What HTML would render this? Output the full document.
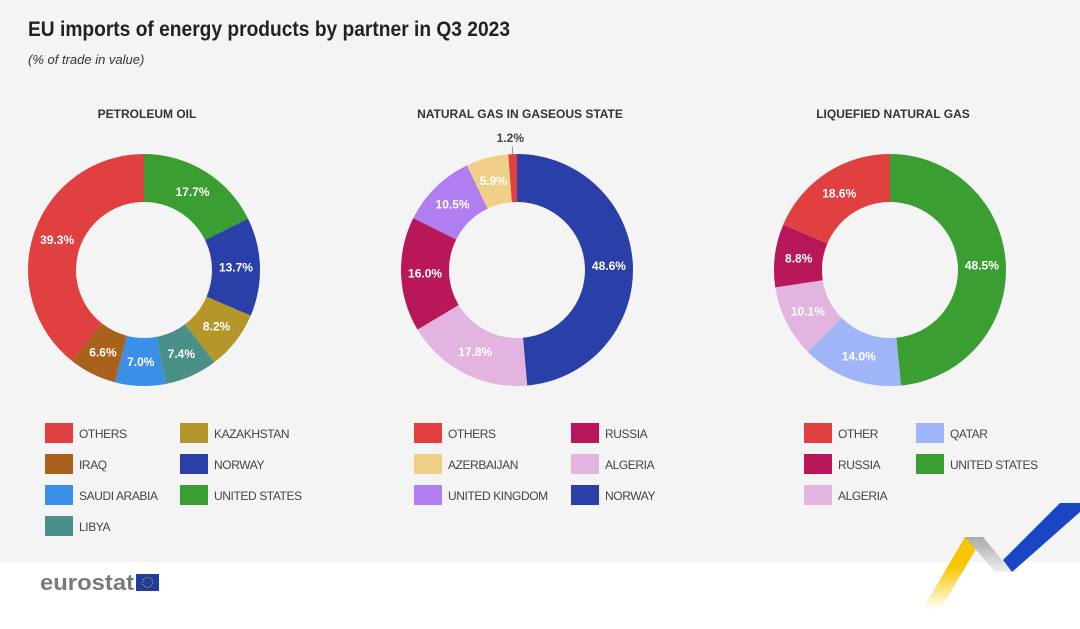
<!DOCTYPE html>
<html><head><meta charset="utf-8"><style>
body{margin:0;width:1080px;height:624px;overflow:hidden;font-family:"Liberation Sans",sans-serif;background:#fff}
</style></head><body>
<svg id="c" width="1080" height="624" xmlns="http://www.w3.org/2000/svg">
<rect x="0" y="0" width="1080" height="562" fill="#f4f4f4"/>
<text x="28" y="36" font-size="21" font-weight="bold" fill="#222" textLength="482" lengthAdjust="spacingAndGlyphs">EU imports of energy products by partner in Q3 2023</text>
<text x="28" y="64" font-size="13" font-style="italic" fill="#333">(% of trade in value)</text>
<g>
<text x="40" y="590" font-size="22" font-weight="bold" fill="#7a7a7a" textLength="94" lengthAdjust="spacingAndGlyphs">eurostat</text>
<rect x="136" y="574" width="23" height="17" fill="#1d3e9a"/>
<circle cx="147.5" cy="582.5" r="5" fill="none" stroke="#f5c400" stroke-width="1" stroke-dasharray="1 1.6"/>
</g>
<g>
<defs><linearGradient id="gy" x1="0" y1="1" x2="0" y2="0"><stop offset="0" stop-color="#fff"/><stop offset="0.6" stop-color="#f7c600"/></linearGradient>
<linearGradient id="gg" x1="0" y1="0" x2="0" y2="1"><stop offset="0" stop-color="#aaa"/><stop offset="1" stop-color="#eee"/></linearGradient></defs>
<polygon points="922,610 965,537 983,537 940,610" fill="url(#gy)"/>
<polygon points="965,537 983,537 1012,572 995,572" fill="url(#gg)"/>
<polygon points="1060,503 1080,503 1080,512 1012,572 1003,560" fill="#1a46c4"/>
</g>
</svg>
<script>
const petroCats=["UNITED STATES","NORWAY","KAZAKHSTAN","LIBYA","SAUDI ARABIA","IRAQ","OTHERS"];
const petroVals=[17.7,13.7,8.2,7.4,7.0,6.6,39.3];
const gasCats=["NORWAY","ALGERIA","RUSSIA","UNITED KINGDOM","AZERBAIJAN","OTHERS"];
const gasVals=[48.6,17.8,16.0,10.5,5.9,1.2];
const lngCats=["UNITED STATES","QATAR","ALGERIA","RUSSIA","OTHER"];
const lngVals=[48.5,14.0,10.1,8.8,18.6];
const colors={"UNITED STATES":"#3a9e32","NORWAY":"#2a3fa8","KAZAKHSTAN":"#b5962a","LIBYA":"#4a9088","SAUDI ARABIA":"#3a8fe8","IRAQ":"#a8621c","OTHERS":"#e04040","OTHER":"#e04040","ALGERIA":"#e4b4e0","RUSSIA":"#b8185a","UNITED KINGDOM":"#b07ef0","AZERBAIJAN":"#f0cf88","QATAR":"#a0b4f8"};
const NS="http://www.w3.org/2000/svg";
const svg=document.getElementById('c');
function mk(t,a){const e=document.createElementNS(NS,t);for(const k in a)e.setAttribute(k,a[k]);return e;}
function donut(cx,cy,title,cats,vals,legendOrder,lx,colW){
  const R=116,r=68,tot=vals.reduce((a,b)=>a+b,0);
  const g=mk('g',{});
  
  
  svg.appendChild(g);
  const t=mk('text',{x:cx+3,y:118,'font-size':12,'font-weight':'bold','text-anchor':'middle',fill:'#333'});
  
  
  t.textContent=title;g.appendChild(t);
  let a0=0;
  cats.forEach((c,i)=>{
    const a1=a0+vals[i]/tot*2*Math.PI;
    const p=(a,rad)=>[cx+rad*Math.sin(a),cy-rad*Math.cos(a)];
    const [x1,y1]=p(a0,R),[x2,y2]=p(a1,R),[x3,y3]=p(a1,r),[x4,y4]=p(a0,r);
    const lg=(a1-a0)>Math.PI?1:0;
    const s=mk('path',{d:`M${x1},${y1}A${R},${R} 0 ${lg} 1 ${x2},${y2}L${x3},${y3}A${r},${r} 0 ${lg} 0 ${x4},${y4}Z`,fill:colors[c]});
    
    
    g.appendChild(s);
    const am=(a0+a1)/2;
    let lab;
    if(vals[i]<3){
      const [px,py]=p(am,R),[qx,qy]=p(am,R+8);
      g.appendChild(mk('line',{x1:px,y1:py,x2:qx,y2:qy,stroke:'#999'}));
      lab=mk('text',{x:qx-2,y:qy-4,'font-size':12,'font-weight':'bold','text-anchor':'middle',fill:'#444'});
    }else{
      const [lx2,ly2]=p(am,(R+r)/2);
      lab=mk('text',{x:lx2,y:ly2+4,'font-size':12,'font-weight':'bold','text-anchor':'middle',fill:'#fff'});
    }
    
    
    lab.textContent=vals[i].toFixed(1)+'%';g.appendChild(lab);
    a0=a1;
  });
  const lgd=mk('g',{});
  
  
  g.appendChild(lgd);
  legendOrder.forEach((c,i)=>{
    const col=i<Math.ceil(legendOrder.length/2)?0:1;
    const row=col?i-Math.ceil(legendOrder.length/2):i;
    const x=lx+col*colW,y=423+row*31;
    const e=mk('g',{});
    
    
    e.appendChild(mk('rect',{x:x,y:y,width:28,height:20,fill:colors[c]}));
    const tx=mk('text',{x:x+34,y:y+15,'font-size':12,fill:'#444','letter-spacing':'-0.4'});
    tx.textContent=c;e.appendChild(tx);
    lgd.appendChild(e);
  });
}
donut(144,270,"PETROLEUM OIL",petroCats,petroVals,["OTHERS","IRAQ","SAUDI ARABIA","LIBYA","KAZAKHSTAN","NORWAY","UNITED STATES"],45,135);
donut(517,270,"NATURAL GAS IN GASEOUS STATE",gasCats,gasVals,["OTHERS","AZERBAIJAN","UNITED KINGDOM","RUSSIA","ALGERIA","NORWAY"],414,157);
donut(890,270,"LIQUEFIED NATURAL GAS",lngCats,lngVals,["OTHER","RUSSIA","ALGERIA","QATAR","UNITED STATES"],804,112);
</script>
</body></html>
